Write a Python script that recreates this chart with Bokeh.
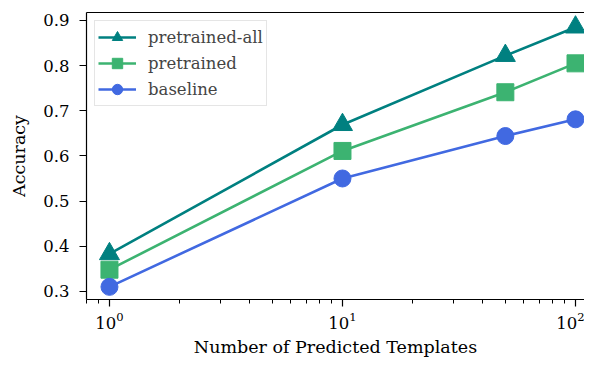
from bokeh.plotting import figure
from bokeh.models import Range1d, LinearAxis, LogTicker, FixedTicker
from bokeh.embed import file_html
from bokeh.resources import INLINE

templates = [1, 10, 50, 100]
pretrained_all = [0.383, 0.669, 0.822, 0.885]
pretrained = [0.348, 0.611, 0.741, 0.805]
baseline = [0.310, 0.550, 0.644, 0.681]
y_ticks = [0.3, 0.4, 0.5, 0.6, 0.7, 0.8, 0.9]

FONT = "DejaVu Serif"
FS = "16.5px"
FS_LABEL = "17.5px"

p = figure(width=584, height=359, x_axis_type="log",
           x_range=Range1d(0.797, 109.3), y_range=Range1d(0.282, 0.9176),
           output_backend="svg", toolbar_location=None,
           min_border_left=86, min_border_top=12, min_border_bottom=58, min_border_right=0)
p.grid.visible = False
p.outline_line_color = None
p.background_fill_color = "white"

series = [
    ("pretrained-all", pretrained_all, "#008080", "triangle", 20),
    ("pretrained", pretrained, "#3CB371", "square", 17),
    ("baseline", baseline, "#4169E1", "circle", 17),
]
for label, vals, color, marker, size in series:
    p.line(templates, vals, line_color=color, line_width=2.6, legend_label=label)
    p.scatter(templates, vals, marker=marker, size=size, fill_color=color,
              line_color=color, legend_label=label)

for ax in (p.xaxis[0], p.yaxis[0]):
    ax.axis_line_color = "black"
    ax.axis_line_width = 1.2
    ax.major_tick_in = 0
    ax.major_tick_out = 7
    ax.minor_tick_in = 0
    ax.minor_tick_out = 4
    ax.major_tick_line_width = 1.2
    ax.major_label_text_font = FONT
    ax.major_label_text_font_size = FS
    ax.major_label_text_color = "black"
    ax.axis_label_text_font = FONT
    ax.axis_label_text_font_size = FS_LABEL
    ax.axis_label_text_font_style = "normal"
    ax.axis_label_text_color = "black"

p.xaxis.ticker = LogTicker(num_minor_ticks=10)
p.xaxis.axis_label = "Number of Predicted Templates"
p.xaxis.major_label_standoff = 5
p.xaxis.axis_label_standoff = 5

p.yaxis.ticker = FixedTicker(ticks=y_ticks)
p.yaxis.minor_tick_line_color = None
p.yaxis.axis_label = "Accuracy"
p.yaxis.major_label_standoff = 10
p.yaxis.axis_label_standoff = 11

top = LinearAxis(ticker=FixedTicker(ticks=[]), axis_line_color="black",
                 axis_line_width=1.2, major_tick_out=0, minor_tick_out=0,
                 major_label_standoff=0)
p.add_layout(top, "above")

lg = p.legend[0]
lg.location = "top_left"
lg.margin = 8
lg.padding = 3
lg.spacing = 0
lg.glyph_width = 38
lg.glyph_height = 26
lg.label_height = 26
lg.label_standoff = 12
lg.label_text_font = FONT
lg.label_text_font_size = FS
lg.border_line_color = "#cccccc"
lg.border_line_width = 1
lg.background_fill_alpha = 0.8

open("out.html", "w").write(file_html(p, INLINE))
